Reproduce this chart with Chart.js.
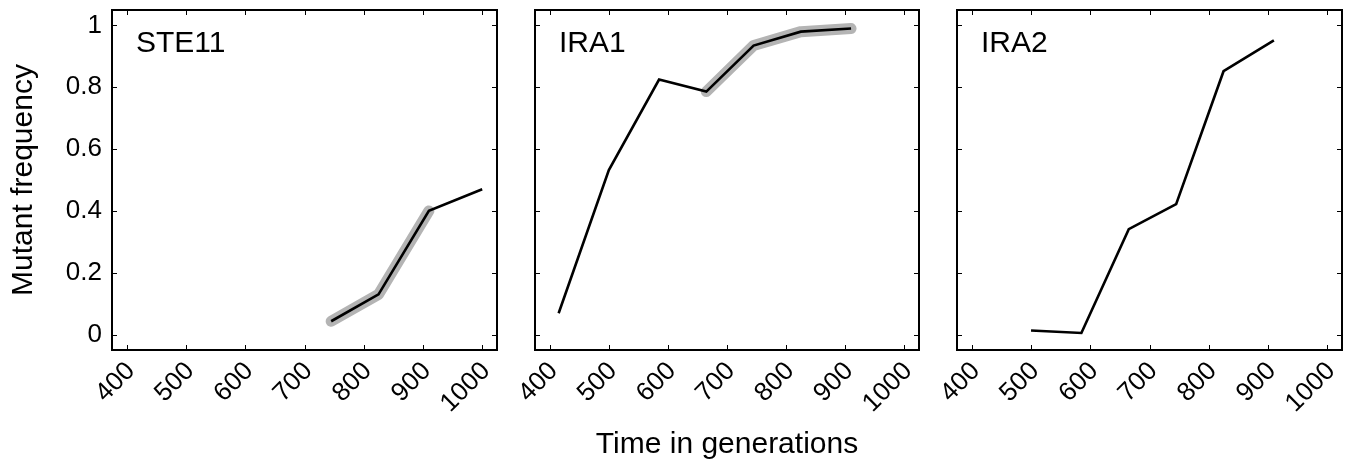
<!DOCTYPE html>
<html>
<head>
<meta charset="utf-8">
<script src="https://cdn.jsdelivr.net/npm/chart.js@4/dist/chart.umd.min.js"></script>
<style>
  html, body { margin: 0; padding: 0; background: #fff; }
  #wrap { position: relative; width: 1354px; height: 465px; overflow: hidden; }
  canvas { position: absolute; top: 0; }
</style>
</head>
<body>
<div id="wrap">
  <canvas id="c1" width="505" height="465" style="left:0px"></canvas>
  <canvas id="c2" width="470" height="465" style="left:460px"></canvas>
  <canvas id="c3" width="474" height="465" style="left:880px"></canvas>
</div>
<script>
// sampled generations (shared by all three genes)
var generations = [415, 500, 585, 665, 745, 825, 910, 1000];

// mutant frequency per gene, null where not sampled
var ste11Freq = [null, null, null, null, 0.043, 0.13, 0.40, 0.47];
var ira1Freq  = [0.069, 0.532, 0.825, 0.786, 0.935, 0.98, 0.99, null];
var ira2Freq  = [null, 0.013, 0.005, 0.341, 0.422, 0.852, 0.952, null];

// generation windows drawn with the grey band
var ste11Band = [745, 910];
var ira1Band  = [665, 910];
var ira2Band  = null;

var xTicks = [400, 500, 600, 700, 800, 900, 1000];
var yTicks = [0, 0.2, 0.4, 0.6, 0.8, 1];

var FONT = '"Liberation Sans", Arial, Helvetica, sans-serif';

function toPoints(freq, band) {
    var pts = [];
    for (var i = 0; i < generations.length; i++) {
        if (freq[i] === null) continue;
        if (band && (generations[i] < band[0] || generations[i] > band[1])) continue;
        pts.push({ x: generations[i], y: freq[i] });
    }
    return pts;
}

// box round the plot area, inward ticks on all sides, gene name in the corner
var framePlugin = {
    id: 'frame',
    afterDraw: function(chart, args, opts) {
        var ctx = chart.ctx;
        var a = chart.chartArea;
        var x = chart.scales.x, y = chart.scales.y;
        ctx.save();
        ctx.strokeStyle = '#000';
        ctx.lineWidth = 1;
        ctx.beginPath();
        x.ticks.forEach(function(t) {
            var px = Math.round(x.getPixelForValue(t.value)) + 0.5;
            ctx.moveTo(px, a.bottom); ctx.lineTo(px, a.bottom - 5);
            ctx.moveTo(px, a.top); ctx.lineTo(px, a.top + 5);
        });
        y.ticks.forEach(function(t) {
            var py = Math.round(y.getPixelForValue(t.value)) + 0.5;
            ctx.moveTo(a.left, py); ctx.lineTo(a.left + 5, py);
            ctx.moveTo(a.right, py); ctx.lineTo(a.right - 5, py);
        });
        ctx.stroke();
        ctx.lineWidth = 2;
        ctx.strokeRect(a.left, a.top, a.right - a.left, a.bottom - a.top);
        ctx.fillStyle = '#000';
        ctx.font = '30px ' + FONT;
        ctx.textBaseline = 'alphabetic';
        ctx.fillText(opts.label, a.left + 24, a.top + 42);
        ctx.restore();
    }
};

function makePanel(id, label, freq, band, pad, showY, showXTitle) {
    var datasets = [{
        data: toPoints(freq, null),
        borderColor: '#000',
        borderWidth: 2.6,
        pointRadius: 0,
        tension: 0,
        fill: false
    }];
    if (band) {
        datasets.push({
            data: toPoints(freq, band),
            borderColor: '#b4b4b4',
            borderWidth: 11,
            borderCapStyle: 'round',
            borderJoinStyle: 'round',
            pointRadius: 0,
            tension: 0,
            fill: false
        });
    }

    return new Chart(document.getElementById(id).getContext('2d'), {
        type: 'line',
        data: { datasets: datasets },
        plugins: [framePlugin],
        options: {
            responsive: false,
            animation: false,
            devicePixelRatio: 1,
            layout: { padding: pad },
            plugins: {
                legend: { display: false },
                tooltip: { enabled: false },
                frame: { label: label }
            },
            scales: {
                x: {
                    type: 'linear',
                    min: 375,
                    max: 1025,
                    grid: { display: false, drawTicks: false },
                    border: { display: false },
                    afterBuildTicks: function(s) {
                        s.ticks = xTicks.map(function(v) { return { value: v }; });
                    },
                    afterFit: function(s) {
                        s.height = 115;
                        s.paddingLeft = 0; s.paddingRight = 0;
                    },
                    ticks: {
                        autoSkip: false,
                        minRotation: 45,
                        maxRotation: 45,
                        padding: 6,
                        labelOffset: 4,
                        color: '#000',
                        font: { family: FONT, size: 26 },
                        callback: function(v) { return String(v); }
                    },
                    title: {
                        display: showXTitle,
                        text: 'Time in generations',
                        color: '#000',
                        font: { family: FONT, size: 30 },
                        padding: { top: 0, bottom: 2 }
                    }
                },
                y: {
                    type: 'linear',
                    min: -0.05,
                    max: 1.05,
                    grid: { display: false, drawTicks: false },
                    border: { display: false },
                    afterBuildTicks: function(s) {
                        s.ticks = yTicks.map(function(v) { return { value: v }; });
                    },
                    afterFit: function(s) {
                        s.width = showY ? 112 : 0;
                        s.paddingTop = 0; s.paddingBottom = 0;
                    },
                    ticks: {
                        display: showY,
                        padding: 10,
                        color: '#000',
                        font: { family: FONT, size: 26 },
                        callback: function(v) { return String(+v.toFixed(1)); }
                    },
                    title: {
                        display: showY,
                        text: 'Mutant frequency',
                        color: '#000',
                        font: { family: FONT, size: 30 },
                        padding: { top: 6, bottom: 0 }
                    }
                }
            }
        }
    });
}

makePanel('c1', 'STE11', ste11Freq, ste11Band, { left: 0, right: 8, top: 10, bottom: 0 }, true, false);
makePanel('c2', 'IRA1', ira1Freq, ira1Band, { left: 75, right: 11, top: 10, bottom: 0 }, false, true);
makePanel('c3', 'IRA2', ira2Freq, ira2Band, { left: 77, right: 12, top: 10, bottom: 0 }, false, false);
</script>
</body>
</html>
